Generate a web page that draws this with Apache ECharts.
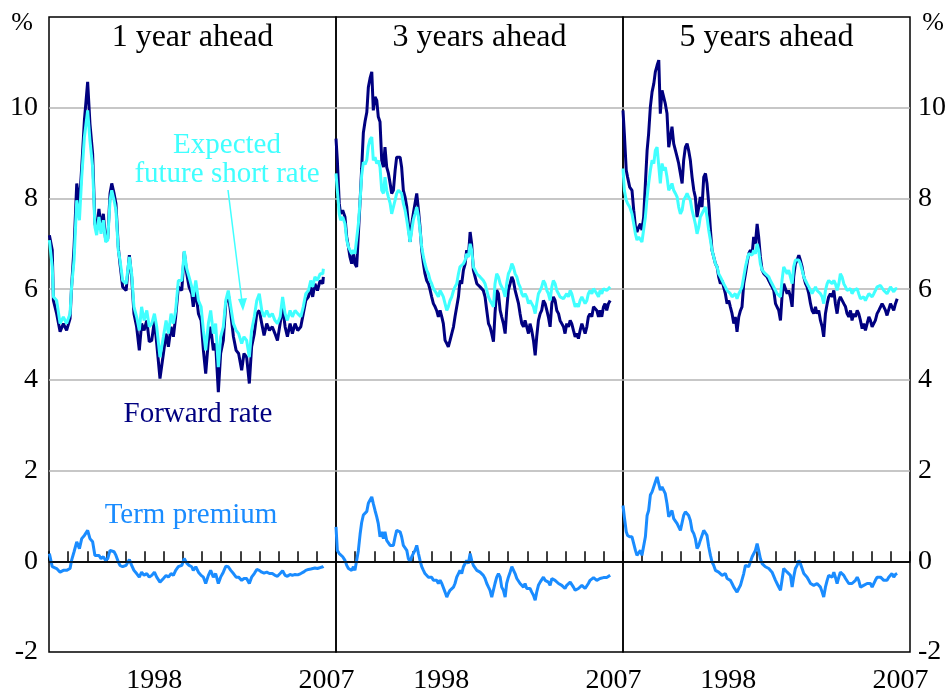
<!DOCTYPE html>
<html><head><meta charset="utf-8">
<script src="https://cdn.jsdelivr.net/npm/echarts@6/dist/echarts.min.js"></script>
<style>html,body{margin:0;background:#fff}#c{width:950px;height:691px}</style>
</head><body><div id="c"></div>
<script>
// ---------- DATA ----------
const yearLabels = ['1993','1994','1995','1996','1997','1998','1999','2000','2001','2002','2003','2004','2005','2006','2007'];
const shownYears = ['1998','2007'];
const panelTitles = ['1 year ahead','3 years ahead','5 years ahead'];

// Panel 1 dates (decimal years)
const dates1 = [1993.02,1993.17,1993.23,1993.40,1993.58,1993.75,1993.92,1994.10,1994.18,1994.31,1994.45,1994.59,1994.71,1994.85,1995.02,1995.14,1995.28,1995.40,1995.49,1995.61,1995.72,1995.84,1995.96,1996.07,1996.19,1996.28,1996.40,1996.50,1996.62,1996.71,1996.85,1997.03,1997.20,1997.32,1997.44,1997.58,1997.72,1997.84,1997.97,1998.11,1998.24,1998.37,1998.51,1998.63,1998.80,1998.98,1999.12,1999.24,1999.38,1999.50,1999.62,1999.76,1999.94,2000.07,2000.20,2000.32,2000.46,2000.54,2000.67,2000.81,2000.95,2001.07,2001.19,2001.33,2001.45,2001.59,2001.71,2001.85,2001.97,2002.11,2002.24,2002.37,2002.50,2002.64,2002.78,2002.91,2003.07,2003.19,2003.33,2003.47,2003.59,2003.73,2003.86,2003.99,2004.12,2004.24,2004.38,2004.52,2004.67,2004.81,2004.94,2005.08,2005.21,2005.34,2005.46,2005.60,2005.72,2005.86,2006.00,2006.16,2006.29,2006.42,2006.56,2006.68,2006.78,2006.90,2007.03,2007.17,2007.31,2007.34];
const forward1 = [7.19,6.86,5.75,5.46,5.06,5.24,5.09,5.35,6.05,6.93,8.33,7.88,8.69,9.72,10.57,9.65,8.99,7.44,7.30,7.77,7.37,7.66,7.08,7.11,8.11,8.33,8.11,7.88,6.93,6.56,6.05,5.97,6.75,6.27,5.46,5.17,4.65,5.24,5.09,5.31,4.84,4.87,5.31,4.80,4.03,4.58,5.02,4.73,5.17,4.95,5.39,6.05,5.97,6.82,6.34,6.05,5.90,5.61,5.97,5.46,5.31,4.65,4.14,4.87,5.17,4.65,4.80,3.73,4.58,4.87,5.68,5.90,5.46,4.95,4.65,4.58,4.21,4.58,4.50,3.92,4.73,5.02,5.46,5.53,5.24,4.98,5.24,5.09,5.17,5.02,4.87,5.24,5.61,5.17,4.95,5.24,5.02,5.24,5.09,5.17,5.46,5.75,5.83,6.05,5.83,6.12,5.97,6.19,6.12,6.27];
const expected1 = [7.08,6.49,5.83,5.75,5.24,5.39,5.24,5.46,6.05,6.64,7.96,7.52,8.47,9.35,9.94,9.28,8.69,7.37,7.19,7.59,7.22,7.52,7.04,7.08,7.96,8.18,7.96,7.74,6.86,6.64,6.19,6.12,6.71,6.34,5.61,5.39,5.09,5.61,5.31,5.53,5.17,5.24,5.46,5.17,4.50,4.95,5.31,5.02,5.46,5.24,5.53,6.19,6.19,6.84,6.45,6.27,6.05,5.83,6.19,5.75,5.61,5.09,4.65,5.24,5.53,5.02,5.24,4.28,4.95,5.17,5.75,5.97,5.61,5.24,5.09,5.02,4.80,4.95,4.87,4.50,5.09,5.39,5.75,5.90,5.53,5.39,5.53,5.39,5.46,5.31,5.24,5.39,5.83,5.46,5.31,5.53,5.39,5.53,5.46,5.39,5.61,5.90,5.97,6.19,6.05,6.27,6.19,6.34,6.34,6.45];
const premium1 = [0.17,-0.12,-0.16,-0.16,-0.24,-0.20,-0.20,-0.16,0.02,0.21,0.43,0.28,0.50,0.57,0.68,0.50,0.43,0.13,0.10,0.13,0.06,0.10,0.02,0.06,0.24,0.26,0.21,0.13,-0.01,-0.09,-0.12,-0.09,0.04,-0.09,-0.20,-0.27,-0.35,-0.24,-0.31,-0.27,-0.35,-0.31,-0.24,-0.35,-0.46,-0.38,-0.31,-0.35,-0.27,-0.31,-0.20,-0.12,-0.09,0.06,-0.04,-0.09,-0.12,-0.20,-0.12,-0.24,-0.31,-0.35,-0.49,-0.31,-0.20,-0.35,-0.27,-0.49,-0.35,-0.24,-0.11,-0.12,-0.20,-0.27,-0.35,-0.35,-0.42,-0.38,-0.38,-0.49,-0.35,-0.27,-0.18,-0.20,-0.24,-0.26,-0.24,-0.27,-0.27,-0.31,-0.33,-0.27,-0.21,-0.31,-0.33,-0.29,-0.31,-0.29,-0.30,-0.27,-0.24,-0.20,-0.18,-0.17,-0.18,-0.15,-0.16,-0.14,-0.12,-0.11];

// Panels 2 and 3 dates (decimal years)
const dates23 = [1993.00,1993.07,1993.17,1993.24,1993.35,1993.47,1993.56,1993.65,1993.73,1993.82,1993.91,1993.99,1994.08,1994.17,1994.26,1994.34,1994.43,1994.52,1994.61,1994.69,1994.78,1994.87,1994.95,1995.04,1995.13,1995.21,1995.30,1995.39,1995.48,1995.56,1995.65,1995.74,1995.83,1995.91,1996.00,1996.09,1996.17,1996.26,1996.35,1996.43,1996.52,1996.61,1996.70,1996.78,1996.87,1996.96,1997.04,1997.13,1997.22,1997.31,1997.39,1997.48,1997.57,1997.65,1997.74,1997.83,1997.92,1998.00,1998.09,1998.18,1998.26,1998.35,1998.44,1998.53,1998.61,1998.70,1998.79,1998.87,1998.96,1999.05,1999.14,1999.22,1999.31,1999.40,1999.48,1999.57,1999.66,1999.75,1999.83,1999.92,2000.01,2000.09,2000.18,2000.27,2000.36,2000.44,2000.53,2000.62,2000.70,2000.79,2000.88,2000.97,2001.05,2001.14,2001.23,2001.31,2001.40,2001.49,2001.58,2001.66,2001.75,2001.84,2001.92,2002.01,2002.10,2002.19,2002.27,2002.36,2002.45,2002.54,2002.62,2002.71,2002.80,2002.88,2002.97,2003.06,2003.14,2003.23,2003.32,2003.41,2003.49,2003.58,2003.67,2003.75,2003.84,2003.93,2004.02,2004.10,2004.19,2004.28,2004.36,2004.45,2004.54,2004.63,2004.71,2004.80,2004.89,2004.97,2005.06,2005.15,2005.24,2005.32,2005.41,2005.50,2005.58,2005.67,2005.76,2005.85,2005.93,2006.02,2006.11,2006.19,2006.28,2006.37,2006.46,2006.54,2006.63,2006.72,2006.80,2006.89,2006.98,2007.06,2007.15,2007.24,2007.33];

const forward3 = [9.32,8.84,7.89,7.66,7.74,7.59,7.15,6.93,6.71,6.56,6.78,6.56,6.49,7.22,7.95,8.65,9.45,9.70,9.90,10.45,10.65,10.79,9.94,10.24,10.16,9.80,9.69,8.84,8.69,9.13,8.69,8.55,8.33,8.11,8.18,8.62,8.91,8.91,8.91,8.69,8.18,8.03,7.81,7.44,7.04,7.44,7.66,7.89,8.11,7.74,7.37,6.86,6.56,6.34,6.19,6.12,5.98,5.83,5.68,5.61,5.53,5.39,5.53,5.39,5.24,4.87,4.80,4.73,4.87,5.02,5.17,5.39,5.39,5.83,6.19,6.12,6.42,6.56,6.86,6.71,7.26,7.00,6.42,6.27,6.12,6.12,6.05,6.05,5.97,5.83,5.53,5.24,5.17,5.02,4.84,5.46,5.98,5.90,5.53,5.39,5.24,5.02,5.53,5.98,6.12,6.27,6.19,5.98,5.83,5.68,5.46,5.24,5.17,5.31,5.17,5.02,5.24,5.09,4.87,4.54,4.95,5.31,5.46,5.53,5.75,5.68,5.53,5.39,5.17,5.68,5.83,5.75,5.53,5.46,5.31,5.24,5.17,5.02,5.24,5.17,5.31,5.24,5.09,4.95,5.02,4.91,5.09,5.24,5.24,5.02,5.17,5.39,5.46,5.39,5.61,5.64,5.53,5.39,5.53,5.39,5.61,5.68,5.53,5.68,5.75];
const expected3 = [8.55,8.18,7.66,7.52,7.59,7.44,7.08,6.93,6.86,6.78,6.86,6.78,6.75,7.44,7.95,8.50,8.80,8.75,8.85,9.15,9.30,9.35,8.84,8.91,8.77,8.84,8.69,8.18,8.11,8.47,8.18,8.03,7.89,7.66,7.66,7.96,8.11,8.18,8.18,8.11,7.89,7.74,7.52,7.30,7.04,7.30,7.52,7.66,7.81,7.59,7.30,6.93,6.71,6.56,6.42,6.34,6.19,6.12,6.01,5.97,5.90,5.83,5.97,5.90,5.83,5.68,5.53,5.61,5.75,5.83,5.97,6.05,6.12,6.34,6.49,6.49,6.56,6.64,6.78,6.71,7.00,6.86,6.49,6.42,6.34,6.34,6.27,6.27,6.19,6.12,5.97,5.83,5.75,5.68,5.61,6.12,6.34,6.27,6.12,6.05,5.97,5.83,6.12,6.34,6.42,6.56,6.49,6.34,6.27,6.12,6.05,5.90,5.83,5.90,5.83,5.68,5.75,5.68,5.61,5.46,5.68,5.90,5.97,6.05,6.19,6.12,5.97,5.90,5.75,6.05,6.19,6.12,5.97,5.90,5.83,5.79,5.79,5.75,5.90,5.83,5.97,5.90,5.75,5.61,5.68,5.61,5.75,5.83,5.83,5.68,5.75,5.90,5.97,5.90,6.01,5.97,5.90,5.83,5.97,5.90,6.01,6.05,5.97,6.01,6.05];
const premium3 = [0.76,0.24,0.17,0.13,0.10,0.02,-0.09,-0.16,-0.12,-0.20,-0.12,-0.20,-0.16,0.24,0.60,0.85,1.02,1.05,1.10,1.28,1.35,1.42,1.27,1.12,0.98,0.83,0.54,0.65,0.50,0.65,0.46,0.43,0.35,0.32,0.35,0.54,0.68,0.68,0.65,0.54,0.35,0.32,0.24,0.06,-0.01,0.10,0.17,0.24,0.35,0.17,0.02,-0.12,-0.20,-0.27,-0.31,-0.35,-0.38,-0.35,-0.42,-0.38,-0.42,-0.49,-0.42,-0.49,-0.53,-0.68,-0.79,-0.71,-0.64,-0.60,-0.57,-0.49,-0.35,-0.27,-0.20,-0.27,-0.12,-0.09,0.02,-0.05,0.17,0.02,-0.09,-0.12,-0.20,-0.20,-0.24,-0.27,-0.31,-0.38,-0.49,-0.57,-0.64,-0.79,-0.75,-0.49,-0.35,-0.27,-0.35,-0.57,-0.64,-0.79,-0.49,-0.35,-0.24,-0.12,-0.16,-0.27,-0.38,-0.42,-0.49,-0.53,-0.57,-0.49,-0.60,-0.64,-0.60,-0.68,-0.75,-0.86,-0.68,-0.53,-0.46,-0.42,-0.35,-0.42,-0.42,-0.46,-0.53,-0.38,-0.38,-0.42,-0.46,-0.49,-0.53,-0.53,-0.57,-0.60,-0.53,-0.53,-0.46,-0.49,-0.57,-0.64,-0.60,-0.60,-0.57,-0.53,-0.53,-0.60,-0.57,-0.49,-0.42,-0.40,-0.36,-0.38,-0.42,-0.40,-0.38,-0.42,-0.36,-0.35,-0.36,-0.33,-0.31];

const forward5 = [9.94,9.43,8.62,8.47,8.25,8.18,7.74,7.37,7.26,7.37,7.44,7.30,7.59,8.33,9.06,9.43,10.02,10.35,10.53,10.79,10.93,11.05,9.87,10.38,10.38,10.09,9.87,9.13,9.35,9.58,9.21,9.06,8.91,8.77,8.55,8.33,8.84,9.13,9.21,9.06,8.84,8.47,8.18,8.03,7.59,7.81,8.03,7.81,8.47,8.55,8.33,7.89,7.30,6.86,6.71,6.56,6.49,6.27,6.12,6.19,6.05,5.90,5.68,5.75,5.61,5.46,5.24,5.39,5.06,5.39,5.53,5.61,6.12,6.34,6.56,6.78,6.86,6.78,7.15,7.00,7.44,7.15,6.71,6.42,6.34,6.34,6.27,6.19,6.12,6.05,5.97,5.68,5.61,5.53,5.31,5.83,6.12,6.12,5.90,5.97,5.83,5.61,6.27,6.56,6.64,6.75,6.64,6.49,6.27,6.12,6.05,5.90,5.68,5.53,5.46,5.61,5.46,5.53,5.31,5.17,4.95,5.46,5.68,5.83,5.90,5.83,5.97,5.68,5.46,5.75,5.83,5.83,5.68,5.61,5.46,5.39,5.53,5.31,5.46,5.39,5.53,5.46,5.31,5.13,5.24,5.09,5.24,5.39,5.31,5.17,5.17,5.31,5.46,5.53,5.61,5.68,5.61,5.53,5.42,5.46,5.68,5.68,5.53,5.68,5.79];
const expected5 = [8.66,8.18,7.96,7.89,7.81,7.66,7.44,7.22,7.08,7.15,7.19,7.04,7.00,7.59,8.03,8.33,8.62,8.84,8.77,9.06,9.13,9.10,8.33,8.77,8.62,8.69,8.47,8.18,8.25,8.33,8.18,8.11,8.03,7.81,7.66,7.74,7.96,8.03,8.11,8.03,7.96,7.74,7.59,7.44,7.22,7.37,7.59,7.59,7.74,7.81,7.59,7.30,7.08,6.86,6.71,6.56,6.49,6.34,6.27,6.27,6.12,6.05,5.97,5.97,5.90,5.83,5.83,5.90,5.79,5.90,5.97,6.05,6.27,6.49,6.64,6.78,6.78,6.75,6.86,6.78,7.00,6.86,6.56,6.42,6.38,6.34,6.31,6.27,6.19,6.12,6.08,5.97,5.90,5.90,5.83,6.19,6.49,6.49,6.34,6.42,6.27,6.12,6.49,6.64,6.67,6.64,6.56,6.42,6.27,6.19,6.12,6.05,5.97,5.90,5.94,6.05,5.97,5.97,5.90,5.83,5.68,5.97,6.12,6.19,6.16,6.12,6.19,6.12,5.97,6.12,6.34,6.27,6.12,6.05,5.97,5.97,6.01,5.90,5.97,5.97,6.01,5.90,5.79,5.75,5.83,5.75,5.83,5.90,5.86,5.83,5.90,5.97,6.05,6.05,6.08,6.05,5.97,5.94,5.90,5.97,6.05,6.01,5.94,6.01,6.01];
const premium5 = [1.23,0.98,0.65,0.57,0.54,0.54,0.39,0.24,0.13,0.17,0.24,0.13,0.10,0.54,1.01,1.12,1.46,1.53,1.49,1.75,1.86,1.90,1.57,1.64,1.60,1.49,1.27,0.98,1.01,1.12,0.94,0.90,0.83,0.76,0.68,0.65,1.01,1.09,1.05,1.01,0.90,0.68,0.61,0.50,0.28,0.35,0.46,0.43,0.68,0.72,0.57,0.32,0.13,-0.01,-0.09,-0.20,-0.16,-0.24,-0.27,-0.31,-0.35,-0.27,-0.38,-0.35,-0.42,-0.49,-0.57,-0.60,-0.68,-0.60,-0.53,-0.49,-0.27,-0.09,-0.05,-0.12,-0.01,0.10,0.13,0.24,0.39,0.24,0.06,-0.05,-0.09,-0.12,-0.12,-0.16,-0.20,-0.24,-0.27,-0.42,-0.49,-0.57,-0.64,-0.42,-0.16,-0.12,-0.24,-0.20,-0.31,-0.57,-0.35,-0.16,-0.09,0.02,-0.05,-0.16,-0.27,-0.31,-0.35,-0.42,-0.49,-0.46,-0.53,-0.57,-0.49,-0.53,-0.57,-0.68,-0.79,-0.57,-0.42,-0.31,-0.27,-0.35,-0.24,-0.35,-0.49,-0.35,-0.24,-0.27,-0.31,-0.38,-0.42,-0.49,-0.46,-0.49,-0.53,-0.42,-0.35,-0.42,-0.57,-0.60,-0.53,-0.57,-0.49,-0.46,-0.49,-0.57,-0.53,-0.42,-0.35,-0.31,-0.35,-0.35,-0.42,-0.38,-0.42,-0.35,-0.31,-0.27,-0.35,-0.29,-0.27];

// ---------- CHART ----------
const FONT = '"Liberation Serif","Times New Roman",serif';
const NAVY = '#000080', CYAN = '#40ffff', BLUE = '#1a8cff';
const lefts = [49, 336, 623];
const PW = 287, TOP = 17, PH = 635;

const panels = [
  {dates: dates1, fwd: forward1, exp: expected1, tp: premium1},
  {dates: dates23, fwd: forward3, exp: expected3, tp: premium3},
  {dates: dates23, fwd: forward5, exp: expected5, tp: premium5}
];
const pairs = (d, v) => d.map((t, i) => [t, v[i]]);

const grid = [], xAxis = [], yAxis = [], series = [];
panels.forEach((p, i) => {
  grid.push({left: lefts[i], top: TOP, width: PW, height: PH, show: true, containLabel: false,
             outerBoundsMode: 'none',
             borderColor: '#000', borderWidth: 1.5, backgroundColor: 'transparent'});
  xAxis.push({type: 'category', gridIndex: i, data: yearLabels, boundaryGap: true, position: 'bottom',
    axisLine: {show: true, lineStyle: {color: '#000', width: 1.5}},
    axisTick: {show: true, inside: true, length: 10, interval: 0, alignWithLabel: false,
               lineStyle: {color: '#000', width: 1.5}},
    axisLabel: {interval: 0, margin: 15, color: '#000', fontSize: 28, fontFamily: FONT,
               formatter: v => shownYears.includes(v) ? v : ''},
    splitLine: {show: false}});
  xAxis.push({type: 'value', gridIndex: i, min: 1993, max: 2008, show: false});
  yAxis.push({type: 'value', gridIndex: i, min: -2, max: 12, interval: 2,
    position: i === 2 ? 'right' : 'left',
    axisLine: {show: false}, axisTick: {show: false},
    axisLabel: {show: i !== 1, margin: i === 2 ? 8 : 11, color: '#000', fontSize: 28, fontFamily: FONT,
               formatter: v => v === 12 ? '' : String(v)},
    splitLine: {show: true, showMinLine: false, showMaxLine: false,
               lineStyle: {color: '#b4b4b4', width: 1.5}}});
  const common = {type: 'line', xAxisIndex: 2 * i + 1, yAxisIndex: i, showSymbol: false,
                  symbol: 'none', animation: false, silent: true};
  series.push(Object.assign({}, common, {name: 'Forward rate', data: pairs(p.dates, p.fwd),
    lineStyle: {color: NAVY, width: 3}, z: 3}));
  series.push(Object.assign({}, common, {name: 'Expected future short rate', data: pairs(p.dates, p.exp),
    lineStyle: {color: CYAN, width: 3}, z: 4}));
  series.push(Object.assign({}, common, {name: 'Term premium', data: pairs(p.dates, p.tp),
    lineStyle: {color: BLUE, width: 3}, z: 4,
    markLine: {silent: true, symbol: 'none', label: {show: false}, animation: false,
               lineStyle: {color: '#000', width: 1.5, type: 'solid'}, data: [{yAxis: 0}]}}));
});

const txt = (x, y, s, color, size, align) => ({type: 'text', x, y, z: 10,
  style: {text: s, fill: color, font: size + 'px ' + FONT, textAlign: align || 'center', textVerticalAlign: 'middle'}});

const graphic = [
  txt(lefts[0] + PW / 2, 38, panelTitles[0], '#000', 32),
  txt(lefts[1] + PW / 2, 38, panelTitles[1], '#000', 32),
  txt(lefts[2] + PW / 2, 38, panelTitles[2], '#000', 32),
  txt(22, 23, '%', '#000', 26),
  txt(933, 23, '%', '#000', 26),
  txt(227, 145, 'Expected', CYAN, 29),
  txt(227, 174, 'future short rate', CYAN, 29),
  txt(198, 414, 'Forward rate', NAVY, 29),
  txt(191, 515, 'Term premium', BLUE, 29),
  {type: 'line', z: 10, shape: {x1: 228, y1: 190, x2: 242, y2: 302}, style: {stroke: CYAN, lineWidth: 1.5}},
  {type: 'polygon', z: 10, shape: {points: [[243, 311], [238, 299], [247, 298]]}, style: {fill: CYAN}}
];

const chart = echarts.init(document.getElementById('c'), null, {renderer: 'canvas'});
chart.setOption({animation: false, backgroundColor: '#fff', grid, xAxis, yAxis, series, graphic});
</script>
</body></html>
